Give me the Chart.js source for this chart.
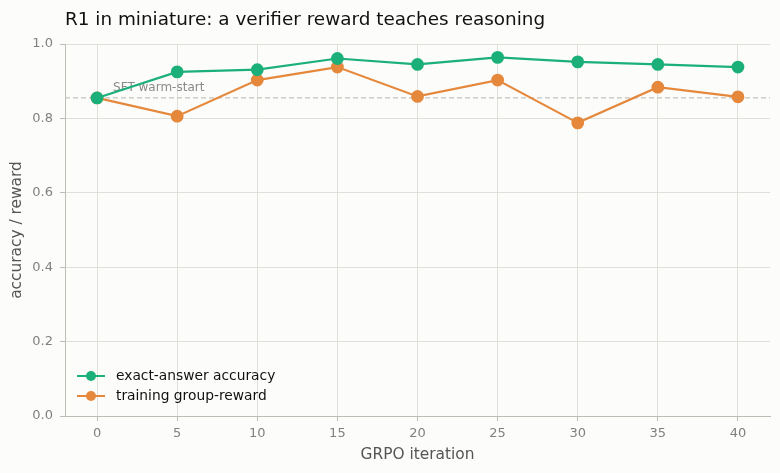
<!DOCTYPE html>
<html>
<head>
<meta charset="utf-8">
<script src="https://cdn.jsdelivr.net/npm/chart.js@4.4.0/dist/chart.umd.min.js"></script>
<style>
  html, body { margin: 0; padding: 0; background: #fcfcfb; }
  #wrap { width: 780px; height: 473px; }
</style>
</head>
<body>
<div id="wrap"><canvas id="chart"></canvas></div>
<script>
var iterations = [0, 5, 10, 15, 20, 25, 30, 35, 40];
var accuracy = [0.855, 0.925, 0.931, 0.961, 0.945, 0.964, 0.952, 0.945, 0.938];
var groupReward = [0.855, 0.806, 0.903, 0.938, 0.859, 0.903, 0.788, 0.884, 0.858];
var sftBaseline = 0.855;
var yTicks = [0, 0.2, 0.4, 0.6, 0.8, 1.0];

var font = "'DejaVu Sans', sans-serif";

function toPoints(xs, ys) {
    return xs.map(function (x, i) { return { x: x, y: ys[i] }; });
}

// title, dashed baseline and a matplotlib-style legend
var extras = {
    id: 'extras',
    beforeDatasetsDraw: function (chart) {
        var ctx = chart.ctx, area = chart.chartArea;
        var y = chart.scales.y.getPixelForValue(sftBaseline);
        ctx.save();
        ctx.strokeStyle = '#c4c4bf';
        ctx.lineWidth = 1.3;
        ctx.setLineDash([5, 3]);
        ctx.beginPath();
        ctx.moveTo(area.left, y);
        ctx.lineTo(area.right, y);
        ctx.stroke();
        ctx.setLineDash([]);
        ctx.fillStyle = '#8a8a8a';
        ctx.font = '12px ' + font;
        ctx.textBaseline = 'alphabetic';
        ctx.fillText('SFT warm-start', chart.scales.x.getPixelForValue(1), y - 7);
        ctx.restore();
    },
    afterDraw: function (chart) {
        var ctx = chart.ctx, area = chart.chartArea;
        ctx.save();
        ctx.fillStyle = '#111';
        ctx.font = '18.4px ' + font;
        ctx.textBaseline = 'middle';
        ctx.fillText('R1 in miniature: a verifier reward teaches reasoning', 65, 20);

        ctx.font = '13.8px ' + font;
        chart.data.datasets.forEach(function (ds, i) {
            var ly = area.bottom - 40 + i * 20;
            var lx = area.left + 12;
            ctx.strokeStyle = ds.borderColor;
            ctx.lineWidth = 2;
            ctx.beginPath();
            ctx.moveTo(lx, ly);
            ctx.lineTo(lx + 28, ly);
            ctx.stroke();
            ctx.fillStyle = ds.backgroundColor;
            ctx.beginPath();
            ctx.arc(lx + 14, ly, 5, 0, Math.PI * 2);
            ctx.fill();
            ctx.fillStyle = '#111';
            ctx.fillText(ds.label, lx + 39, ly);
        });
        ctx.restore();
    }
};

new Chart(document.getElementById('chart').getContext('2d'), {
    type: 'line',
    data: {
        datasets: [
            {
                label: 'exact-answer accuracy',
                data: toPoints(iterations, accuracy),
                borderColor: '#1baf7a',
                backgroundColor: '#1baf7a',
                borderWidth: 2.2,
                pointRadius: 5.3,
                pointHoverRadius: 5.3,
                tension: 0
            },
            {
                label: 'training group-reward',
                data: toPoints(iterations, groupReward),
                borderColor: '#e5883b',
                backgroundColor: '#e5883b',
                borderWidth: 2.2,
                pointRadius: 5.3,
                pointHoverRadius: 5.3,
                tension: 0
            }
        ]
    },
    options: {
        responsive: true,
        maintainAspectRatio: false,
        animation: false,
        layout: { padding: { top: 44, right: 10, left: 0, bottom: 0 } },
        plugins: {
            legend: { display: false },
            title: { display: false },
            tooltip: { enabled: false }
        },
        scales: {
            x: {
                type: 'linear',
                min: -2,
                max: 42,
                afterBuildTicks: function (axis) {
                    axis.ticks = iterations.map(function (v) { return { value: v }; });
                },
                afterFit: function (axis) { axis.height = 57; },
                grid: { color: '#e0e0da', tickColor: '#bdbdb5', tickLength: 5 },
                border: { color: '#bdbdb5' },
                ticks: { color: '#808080', font: { family: font, size: 13 }, padding: 5 },
                title: { display: true, text: 'GRPO iteration', color: '#555', font: { family: font, size: 15.4 }, padding: { top: 0, bottom: 9 } }
            },
            y: {
                min: 0,
                max: 1,
                afterBuildTicks: function (axis) {
                    axis.ticks = yTicks.map(function (v) { return { value: v }; });
                },
                afterFit: function (axis) { axis.width = 65; },
                grid: { color: '#e0e0da', tickColor: '#bdbdb5', tickLength: 5 },
                border: { color: '#bdbdb5' },
                ticks: {
                    color: '#808080',
                    font: { family: font, size: 13 },
                    padding: 7,
                    callback: function (v) { return v.toFixed(1); }
                },
                title: { display: true, text: 'accuracy / reward', color: '#555', font: { family: font, size: 15.4 }, padding: { top: 8, bottom: 4 } }
            }
        }
    },
    plugins: [extras]
});
</script>
</body>
</html>
